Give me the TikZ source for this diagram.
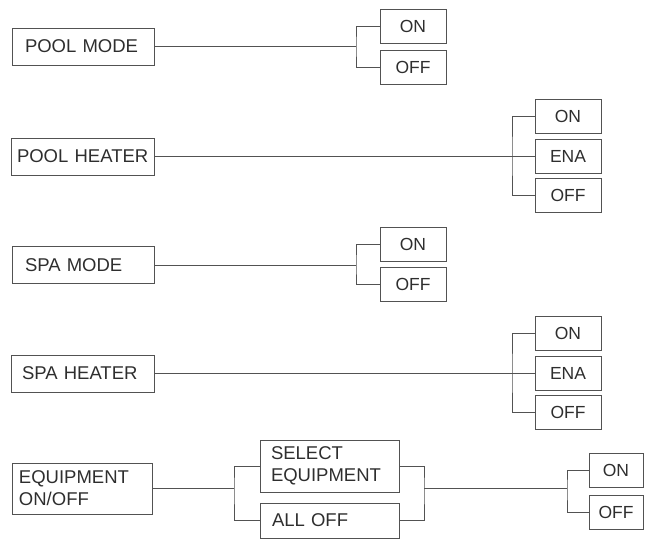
\documentclass[tikz,border=0pt]{standalone}
\usepackage{fontspec}
\setmainfont{Liberation Sans}
\begin{document}
\begin{tikzpicture}[x=1pt,y=-1pt,
  every node/.style={font=\fontsize{18.5}{22}\selectfont, text=black!82},
  mainbox/.style={draw=black!68, line width=1pt, minimum width=142pt, minimum height=37pt, inner xsep=13pt, inner ysep=0pt, text width=116pt, align=left},
  optbox/.style={draw=black!68, line width=1pt, minimum width=66pt, minimum height=34pt, inner sep=0pt, align=center, font=\fontsize{17.5}{20}\selectfont},
  conn/.style={draw=black!68, line width=0.9pt}]
\useasboundingbox (0,0) rectangle (662,546);

% Row 1
\node[mainbox] (pm) at (83,46.5) {POOL MODE};
\node[optbox] (pmon) at (413,26) {ON};
\node[optbox] (pmoff) at (413,67.5) {OFF};
\coordinate (b1) at (356,46.5);
\draw[conn] (pm) -- (b1);
\draw[conn] (pmon.west) -| (b1) |- (pmoff.west);

% Row 2
\node[mainbox, minimum width=143pt, inner xsep=6pt, text width=131pt] (ph) at (82.5,156.5) {\mbox{POOL HEATER}};
\node[optbox] (phon) at (568,116.5) {ON};
\node[optbox] (phena) at (568,156.5) {ENA};
\node[optbox] (phoff) at (568,195.5) {OFF};
\coordinate (b2) at (512,156.5);
\draw[conn] (ph) -- (phena);
\draw[conn] (phon.west) -| (b2) |- (phoff.west);

% Row 3
\node[mainbox] (sm) at (83,265) {SPA MODE};
\node[optbox] (smon) at (413,244) {ON};
\node[optbox] (smoff) at (413,284.5) {OFF};
\coordinate (b3) at (356,265);
\draw[conn] (sm) -- (b3);
\draw[conn] (smon.west) -| (b3) |- (smoff.west);

% Row 4
\node[mainbox, minimum width=143pt, inner xsep=11pt, text width=121pt] (sh) at (82.5,373.5) {SPA HEATER};
\node[optbox] (shon) at (568,333) {ON};
\node[optbox] (shena) at (568,373.5) {ENA};
\node[optbox] (shoff) at (568,412.5) {OFF};
\coordinate (b4) at (512,373.5);
\draw[conn] (sh) -- (shena);
\draw[conn] (shon.west) -| (b4) |- (shoff.west);

% Row 5
\node[mainbox, minimum width=140pt, text width=126pt, minimum height=51pt, inner xsep=7pt] (eq) at (82,488.5) {EQUIPMENT\\ON/OFF};
\node[mainbox, minimum width=139pt, text width=117pt, minimum height=52pt, inner xsep=11pt] (se) at (329.5,466) {SELECT\\EQUIPMENT};
\node[mainbox, minimum width=139pt, text width=115pt, minimum height=35pt, inner xsep=12pt] (ao) at (329.5,520.5) {ALL OFF};
\node[optbox, minimum width=54pt] (eon) at (616,470) {ON};
\node[optbox, minimum width=54pt] (eoff) at (616,512) {OFF};
\coordinate (b5a) at (234,488.5);
\coordinate (b5b) at (424,488.5);
\coordinate (b5c) at (567,488.5);
\draw[conn] (eq) -- (b5a);
\draw[conn] (se.west) -| (b5a) |- (ao.west);
\draw[conn] (se.east) -| (b5b) |- (ao.east);
\draw[conn] (b5b) -- (b5c);
\draw[conn] (eon.west) -| (b5c) |- (eoff.west);
\end{tikzpicture}
\end{document}
